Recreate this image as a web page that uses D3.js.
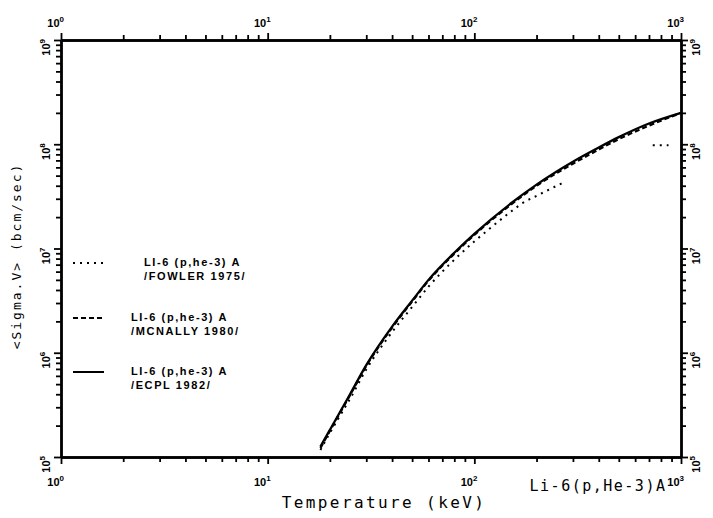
<!DOCTYPE html>
<html><head><meta charset="utf-8">
<script src="https://cdn.jsdelivr.net/npm/d3@7"></script>
<style>
body{margin:0;background:#fff;}
svg{display:block;}
</style></head>
<body>
<svg id="c" width="713" height="518"></svg>
<script>
// ---- data ----
const xDecades = [1, 10, 100, 1000];
const xExponents = ["0", "1", "2", "3"];
const yDecades = [1e5, 1e6, 1e7, 1e8, 1e9];
const yExponents = ["5", "6", "7", "8", "9"];

const ecplT = [18, 20, 25, 30, 40, 50, 60, 80, 100, 150, 200, 300, 400, 500, 700, 1000];
const ecplV = [1.26e5, 1.82e5, 3.98e5, 7.6e5, 1.78e6, 3.16e6, 5.0e6, 9.1e6, 1.38e7, 2.7e7, 4.1e7, 6.8e7, 9.3e7, 1.17e8, 1.58e8, 2.0e8];
const mcnallyT = [18, 20, 25, 30, 40, 50, 60, 80, 100, 150, 200, 300, 400, 500, 700, 1000];
const mcnallyV = [1.22e5, 1.78e5, 3.9e5, 7.45e5, 1.74e6, 3.1e6, 4.9e6, 8.9e6, 1.35e7, 2.63e7, 4.0e7, 6.5e7, 8.9e7, 1.12e8, 1.51e8, 2.0e8];
const fowlerT = [18, 20, 25, 30, 40, 50, 60, 80, 100, 120, 150, 175, 200, 270];
const fowlerV = [1.17e5, 1.7e5, 3.6e5, 6.9e5, 1.58e6, 2.75e6, 4.3e6, 7.8e6, 1.17e7, 1.58e7, 2.25e7, 2.8e7, 3.2e7, 4.3e7];
const fowlerHiT = [730, 800, 870];
const fowlerHiV = [9.8e7, 9.8e7, 9.8e7];

const legendLine1 = ["LI-6 (p,he-3) A", "LI-6 (p,he-3) A", "LI-6 (p,he-3) A"];
const legendLine2 = ["/FOWLER 1975/", "/MCNALLY 1980/", "/ECPL 1982/"];
const xTitle = "Temperature (keV)";
const yTitle = "<Sigma.V> (bcm/sec)";
const plotTitle = "Li-6(p,He-3)A";

// ---- layout ----
const L = 61, R = 681, T = 40, B = 457;
const svg = d3.select("#c");
const x = d3.scaleLog().domain([1, 1000]).range([L, R]);
const y = d3.scaleLog().domain([1e5, 1e9]).range([B, T]);

const minorX = [], minorY = [];
for (const d of [1, 10, 100]) for (let k = 2; k <= 9; k++) minorX.push(d * k);
for (const d of [1e5, 1e6, 1e7, 1e8]) for (let k = 2; k <= 9; k++) minorY.push(d * k);

function styleAxis(g) {
  g.selectAll("path.domain").attr("stroke", "#000").attr("stroke-width", 2.4);
  g.selectAll(".tick line").attr("stroke", "#000").attr("stroke-width", 1.8);
  g.selectAll(".tick text").remove();
}
function addAxis(axisFn, tr) {
  svg.append("g").attr("transform", tr)
    .call(axisFn.tickValues(minorX.length && axisFn.scale() === x ? minorX : minorY)
      .tickSize(5).tickSizeOuter(0).tickFormat("")).call(styleAxis);
}
// bottom
svg.append("g").attr("transform", `translate(0,${B})`)
  .call(d3.axisBottom(x).tickValues(minorX).tickSize(5).tickSizeOuter(0).tickFormat("")).call(styleAxis);
svg.append("g").attr("transform", `translate(0,${B})`)
  .call(d3.axisBottom(x).tickValues(xDecades).tickSize(7).tickSizeOuter(0).tickFormat("")).call(styleAxis);
// top
svg.append("g").attr("transform", `translate(0,${T})`)
  .call(d3.axisTop(x).tickValues(minorX).tickSize(5).tickSizeOuter(0).tickFormat("")).call(styleAxis);
svg.append("g").attr("transform", `translate(0,${T})`)
  .call(d3.axisTop(x).tickValues(xDecades).tickSize(7).tickSizeOuter(0).tickFormat("")).call(styleAxis);
// left
svg.append("g").attr("transform", `translate(${L},0)`)
  .call(d3.axisLeft(y).tickValues(minorY).tickSize(5).tickSizeOuter(0).tickFormat("")).call(styleAxis);
svg.append("g").attr("transform", `translate(${L},0)`)
  .call(d3.axisLeft(y).tickValues(yDecades).tickSize(7).tickSizeOuter(0).tickFormat("")).call(styleAxis);
// right
svg.append("g").attr("transform", `translate(${R},0)`)
  .call(d3.axisRight(y).tickValues(minorY).tickSize(5).tickSizeOuter(0).tickFormat("")).call(styleAxis);
svg.append("g").attr("transform", `translate(${R},0)`)
  .call(d3.axisRight(y).tickValues(yDecades).tickSize(7).tickSizeOuter(0).tickFormat("")).call(styleAxis);

// tick labels
const lblFont = "'Liberation Sans', Arial, sans-serif";
function powLabel(sel, exp) {
  sel.attr("font-family", lblFont).attr("font-weight", "bold").attr("font-size", 11).attr("fill", "#000");
  sel.append("tspan").text("10");
  sel.append("tspan").attr("font-size", 8).attr("dy", -5).text(exp);
}
xDecades.forEach((v, i) => {
  powLabel(svg.append("text").attr("x", x(v) + 3).attr("y", 27).attr("text-anchor", "end"), xExponents[i]);
  powLabel(svg.append("text").attr("x", x(v) + 3).attr("y", 486).attr("text-anchor", "end"), xExponents[i]);
});
yDecades.forEach((v, i) => {
  powLabel(svg.append("text").attr("transform", `translate(50,${y(v) - 1}) rotate(-90)`).attr("text-anchor", "end"), yExponents[i]);
  powLabel(svg.append("text").attr("transform", `translate(700,${y(v) - 1}) rotate(-90)`).attr("text-anchor", "end"), yExponents[i]);
});

// curves
const line = d3.line().x(d => x(d[0])).y(d => y(d[1])).curve(d3.curveMonotoneX);
const zip = (a, b) => a.map((t, i) => [t, b[i]]);
const plot = svg.append("g");
plot.append("path").datum(zip(fowlerT, fowlerV)).attr("d", line)
  .attr("fill", "none").attr("stroke", "#000").attr("stroke-width", 2).attr("stroke-dasharray", "2,5");
plot.append("path").datum(zip(fowlerHiT, fowlerHiV)).attr("d", line)
  .attr("fill", "none").attr("stroke", "#000").attr("stroke-width", 2).attr("stroke-dasharray", "2,5");
plot.append("path").datum(zip(mcnallyT, mcnallyV)).attr("d", line)
  .attr("fill", "none").attr("stroke", "#000").attr("stroke-width", 2.2).attr("stroke-dasharray", "5,3");
plot.append("path").datum(zip(ecplT, ecplV)).attr("d", line)
  .attr("fill", "none").attr("stroke", "#000").attr("stroke-width", 2.3);

// legend
const legY = [263, 318, 372];
const legTextX = [144, 131, 131];
const legDash = ["2,5", "5,3", null];
legY.forEach((ly, i) => {
  const ln = svg.append("line").attr("x1", 73).attr("x2", 104).attr("y1", ly).attr("y2", ly)
    .attr("stroke", "#000").attr("stroke-width", 2);
  if (legDash[i]) ln.attr("stroke-dasharray", legDash[i]);
  const t = svg.append("text").attr("font-family", lblFont).attr("font-weight", "bold")
    .attr("font-size", 11).attr("letter-spacing", 1.6).attr("fill", "#000");
  t.append("tspan").attr("x", legTextX[i]).attr("y", ly + 3).text(legendLine1[i]);
  t.append("tspan").attr("x", legTextX[i]).attr("y", ly + 17).text(legendLine2[i]);
});

// titles
const mono = "'DejaVu Sans Mono', monospace";
svg.append("text").attr("x", 384).attr("y", 508).attr("text-anchor", "middle")
  .attr("font-family", mono).attr("font-size", 16).attr("letter-spacing", 2.4)
  .attr("fill", "#000").text(xTitle);
svg.append("text").attr("x", 598).attr("y", 491).attr("text-anchor", "middle")
  .attr("font-family", mono).attr("font-size", 15).attr("letter-spacing", 1.5)
  .attr("fill", "#000").text(plotTitle);
svg.append("text").attr("transform", "translate(21,256) rotate(-90)").attr("text-anchor", "middle")
  .attr("font-family", mono).attr("font-size", 13).attr("letter-spacing", 2)
  .attr("fill", "#000").text(yTitle);
</script>
</body></html>
